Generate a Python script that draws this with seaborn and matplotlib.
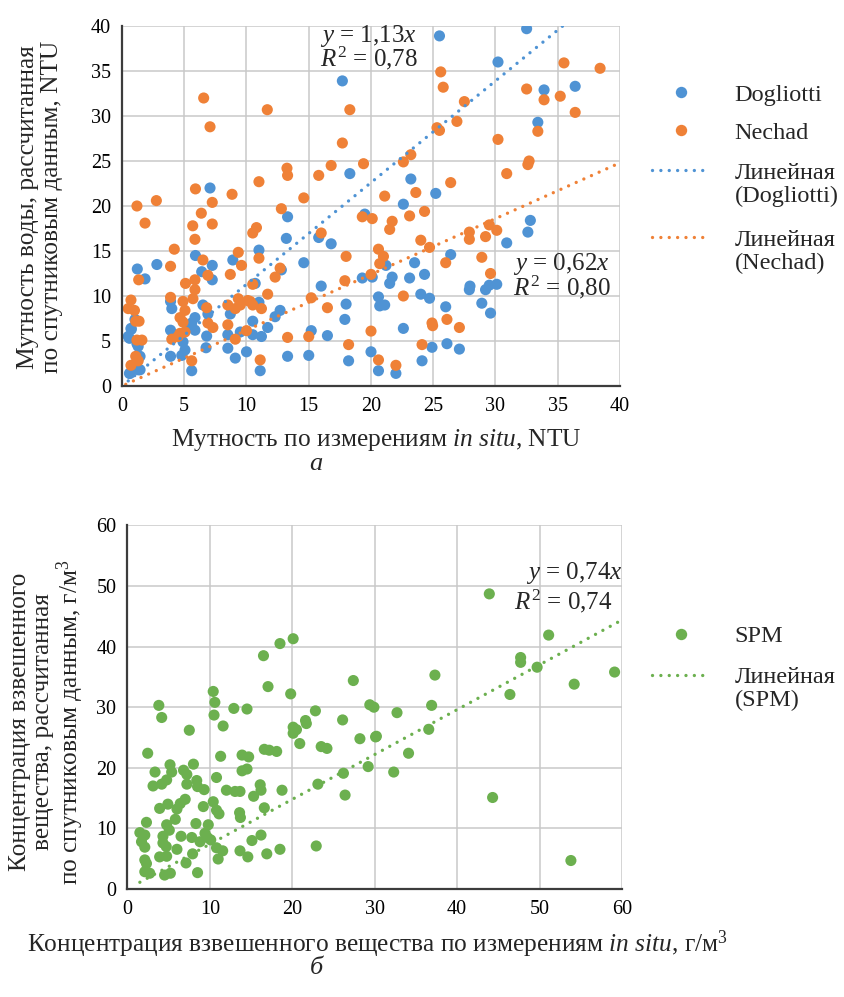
import matplotlib
matplotlib.use("Agg")
import matplotlib.pyplot as plt
from matplotlib.lines import Line2D
import seaborn as sns
import numpy as np
import pandas as pd

# ---------------- data: panel a (turbidity, NTU) ----------------
dogliotti_x = [17.7, 25.5, 32.5, 30.2, 33.9, 36.4, 33.4, 18.3, 7.07, 23.2, 25.2, 22.6, 13.3, 13.2, 15.8,
               16.8, 19.5, 11.0, 8.9, 5.9, 7.25, 1.23, 2.8, 1.85, 6.4, 7.25, 10.7, 12.8, 14.6, 19.3,
               16.0, 18.0, 17.9, 15.2, 16.5, 20.0, 18.2, 15.0, 13.3, 1.04, 0.72, 0.5, 1.2, 1.45, 0.64,
               1.45, 3.9, 4.0, 5.86, 5.6, 5.86, 5.3, 3.9, 4.9, 5.06, 3.9, 4.8, 5.6, 6.5, 6.9,
               6.8, 6.75, 8.7, 8.5, 9.5, 10.5, 11.0, 10.5, 11.2, 11.7, 10.0, 9.1, 8.5, 11.1, 12.7,
               12.3, 32.8, 32.6, 30.9, 26.4, 21.2, 23.5, 20.1, 21.7, 21.5, 23.1, 24.3, 27.95, 27.9, 29.2,
               29.5, 30.1, 20.6, 20.7, 21.1, 24.0, 24.7, 26.0, 28.9, 29.6, 22.6, 24.9, 26.1, 27.1, 24.1,
               20.6, 22.0, 0.75, 0.6, 1.3, 1.3, 0.6]
dogliotti_y = [33.9, 38.9, 39.7, 36.0, 32.9, 33.3, 29.3, 23.6, 22.0, 23.0, 21.4, 20.2, 18.8, 16.4, 16.5,
               15.8, 19.1, 15.1, 14.0, 14.5, 13.4, 13.0, 13.5, 11.9, 12.7, 11.8, 11.4, 12.9, 13.7, 12.0,
               11.1, 9.1, 7.4, 6.15, 5.6, 3.8, 2.8, 3.4, 3.3, 7.4, 6.4, 5.5, 4.7, 3.3, 1.4,
               1.8, 9.4, 8.6, 7.6, 7.0, 6.2, 6.6, 6.2, 4.9, 4.0, 3.3, 3.4, 1.7, 9.0, 8.0,
               5.55, 4.25, 8.0, 5.7, 6.0, 7.2, 9.3, 5.7, 5.5, 6.5, 3.8, 3.1, 4.2, 1.7, 8.4,
               7.7, 18.4, 17.1, 15.9, 14.6, 13.4, 13.7, 12.1, 12.1, 11.4, 12.0, 12.4, 11.1, 10.7, 10.7,
               11.2, 11.3, 9.9, 8.9, 9.0, 10.2, 9.75, 8.8, 9.2, 8.1, 6.4, 4.3, 4.7, 4.1, 2.8,
               1.7, 1.4, 6.3, 5.3, 4.4, 1.8, 1.4]

nechad_x = [6.56, 11.67, 18.3, 7.07, 17.7, 13.25, 13.3, 16.8, 19.4, 15.8, 11.0, 5.9, 8.84, 2.76, 14.6,
            1.2, 7.25, 35.5, 38.4, 25.6, 25.8, 32.5, 33.9, 35.2, 27.5, 36.4, 26.9, 33.4, 25.3, 25.5,
            30.2, 23.2, 22.6, 32.7, 32.6, 30.9, 26.4, 23.6, 21.1, 1.85, 6.37, 5.68, 7.25, 12.8, 5.86,
            4.2, 10.8, 10.5, 16.0, 19.3, 20.1, 11.0, 9.34, 9.6, 6.5, 3.9, 1.34, 6.9, 5.86, 5.1,
            5.86, 5.7, 8.7, 10.5, 12.7, 12.3, 18.0, 17.9, 20.0, 15.2, 11.7, 16.5, 20.0, 15.0, 13.3,
            18.2, 0.72, 0.5, 1.0, 1.1, 1.37, 1.2, 1.6, 1.1, 0.72, 1.3, 3.9, 4.9, 5.06, 4.66,
            4.9, 4.0, 4.66, 5.06, 5.6, 4.5, 6.8, 6.9, 7.3, 9.34, 9.5, 9.1, 8.5, 8.5, 9.1,
            10.0, 10.3, 10.5, 11.2, 11.1, 24.3, 23.1, 21.7, 21.5, 27.9, 27.9, 29.5, 30.1, 29.2, 24.0,
            24.7, 20.6, 21.0, 20.7, 26.0, 28.9, 29.6, 22.6, 24.9, 24.95, 26.1, 27.1, 24.1, 20.6, 22.0,
            10.1]
nechad_y = [32.0, 30.7, 30.7, 28.8, 27.0, 24.2, 23.4, 24.5, 24.7, 23.4, 22.7, 21.9, 21.3, 20.6, 20.9,
            20.0, 20.4, 35.9, 35.3, 34.9, 33.2, 33.0, 31.8, 32.2, 31.6, 30.4, 29.4, 28.3, 28.7, 28.4,
            27.4, 25.7, 24.9, 25.0, 24.6, 23.6, 22.6, 21.5, 21.1, 18.1, 19.2, 17.8, 18.0, 19.7, 16.3,
            15.2, 17.6, 17.0, 17.0, 18.8, 18.6, 14.2, 14.85, 13.4, 14.0, 13.3, 11.8, 12.3, 11.8, 11.4,
            10.7, 9.7, 12.4, 11.3, 13.1, 12.1, 14.4, 11.7, 12.4, 9.8, 10.2, 8.7, 6.1, 5.5, 5.4,
            4.6, 9.55, 8.6, 8.4, 7.2, 7.2, 5.1, 5.1, 3.3, 2.3, 2.8, 9.85, 9.4, 8.4, 7.6,
            7.1, 5.2, 5.85, 6.0, 2.8, 5.5, 8.7, 7.0, 6.5, 9.7, 9.0, 8.6, 9.0, 6.8, 5.2,
            6.15, 9.4, 9.0, 8.6, 2.9, 19.4, 18.9, 18.3, 17.4, 17.1, 16.3, 17.9, 17.3, 16.6, 16.2,
            15.4, 15.2, 14.4, 13.6, 13.7, 14.3, 12.5, 10.0, 7.0, 6.7, 7.4, 6.5, 4.6, 2.9, 2.3,
            9.5]

slope_dogliotti, r2_dogliotti = 1.13, 0.78
slope_nechad, r2_nechad = 0.62, 0.80

# ---------------- data: panel b (SPM, g/m3) ----------------
spm_x = [20.1, 18.5, 16.5, 27.4, 17.05, 19.8, 10.4, 3.8, 10.6, 12.9, 14.5, 10.5, 4.15, 22.8, 29.4,
         29.9, 21.6, 26.1, 43.9, 51.1, 47.7, 47.7, 49.7, 37.3, 59.1, 54.2, 46.4, 36.9, 32.7, 11.6,
         7.5, 20.1, 20.5, 21.7, 20.1, 20.9, 28.2, 30.1, 23.5, 24.2, 2.45, 11.3, 13.9, 14.7, 16.6,
         17.2, 18.1, 5.16, 8.0, 3.34, 5.36, 6.8, 7.2, 13.9, 14.5, 10.8, 4.75, 4.15, 3.1, 8.4,
         8.5, 9.3, 7.2, 12.0, 13.05, 13.65, 16.1, 16.2, 15.3, 18.75, 23.1, 26.2, 29.2, 26.4, 7.0,
         6.4, 4.9, 3.9, 10.4, 9.2, 10.8, 11.1, 6.0, 5.8, 2.3, 8.3, 4.75, 13.6, 13.7, 16.6,
         9.8, 1.5, 2.1, 4.3, 5.07, 6.5, 7.8, 9.4, 9.7, 10.1, 8.8, 1.7, 2.1, 4.3, 4.7,
         6.0, 10.8, 11.55, 13.65, 15.1, 16.2, 18.5, 16.9, 14.6, 11.0, 7.9, 3.9, 4.75, 2.1, 2.3,
         7.1, 2.1, 2.7, 4.5, 5.2, 8.5, 22.9, 30.2, 34.1, 36.55, 32.3, 44.3, 53.8]
spm_y = [41.3, 40.5, 38.5, 34.4, 33.4, 32.2, 32.6, 30.3, 30.8, 29.8, 29.7, 28.7, 28.3, 29.4, 30.4,
         30.0, 27.8, 27.9, 48.7, 41.9, 38.2, 37.4, 36.6, 35.3, 35.8, 33.8, 32.1, 30.3, 29.1, 26.9,
         26.2, 26.7, 26.3, 27.3, 25.7, 24.0, 24.8, 25.1, 23.5, 23.2, 22.4, 21.9, 22.1, 21.8, 23.05,
         22.9, 22.7, 20.5, 20.6, 19.3, 19.3, 19.6, 18.9, 19.5, 19.8, 18.4, 18.0, 17.3, 17.0, 17.9,
         16.9, 16.4, 17.3, 16.3, 16.1, 16.1, 17.2, 16.3, 15.3, 16.3, 17.3, 19.1, 20.2, 15.5, 14.8,
         14.1, 14.0, 13.3, 14.4, 13.6, 13.0, 12.4, 13.2, 11.5, 11.0, 10.8, 10.6, 12.6, 11.8, 13.4,
         10.6, 9.3, 8.9, 8.7, 9.7, 8.7, 8.5, 9.2, 8.5, 8.1, 7.8, 7.8, 6.9, 7.6, 7.0,
         6.55, 6.8, 6.3, 6.3, 8.0, 8.9, 6.55, 5.8, 5.3, 4.95, 5.8, 5.3, 5.4, 4.8, 4.2,
         4.3, 2.85, 2.6, 2.3, 2.6, 2.7, 7.1, 25.2, 22.4, 26.35, 19.3, 15.1, 4.7]
slope_spm, r2_spm = 0.74, 0.74

ticks_a = [0, 5, 10, 15, 20, 25, 30, 35, 40]
ticks_b_x = [0, 10, 20, 30, 40, 50, 60]
ticks_b_y = [0, 10, 20, 30, 40, 50, 60]

# ---------------- style ----------------
sns.set_style("white")
SERIF = ["Liberation Serif", "DejaVu Serif"]
plt.rcParams["font.family"] = SERIF
plt.rcParams["mathtext.fontset"] = "custom"
plt.rcParams["mathtext.rm"] = "Liberation Serif"
plt.rcParams["mathtext.it"] = "Liberation Serif:italic"
plt.rcParams["mathtext.bf"] = "Liberation Serif:bold"

BLUE = "#4f93d4"
ORANGE = "#ef8137"
GREEN = "#6cb04f"
GRID = "#c9c9c9"
SPINE = "#3c3c3c"
DOT = (0, (0.01, 2.5))
PT_S = 64

fig = plt.figure(figsize=(8.45, 9.97), dpi=100)
W, H = 845.0, 997.0
ax1 = fig.add_axes([122 / W, 1 - 386 / H, 498 / W, 360 / H])
ax2 = fig.add_axes([127.5 / W, 1 - 889 / H, 494.5 / W, 363.6 / H])


def style_axes(ax, xt, yt, xlim, ylim):
    ax.set_xlim(*xlim)
    ax.set_ylim(*ylim)
    ax.set_xticks(xt)
    ax.set_yticks(yt)
    ax.grid(True, color=GRID, linewidth=1.1)
    ax.set_axisbelow(True)
    for s in ["top", "right"]:
        ax.spines[s].set_visible(False)
    for s in ["left", "bottom"]:
        ax.spines[s].set_color(SPINE)
        ax.spines[s].set_linewidth(1.6)
        ax.spines[s].set_zorder(5)
    ax.tick_params(direction="out", length=4, width=1.2, color=SPINE,
                   labelsize=14.5, labelcolor="black", pad=4)
    for lab in ax.get_xticklabels() + ax.get_yticklabels():
        lab.set_fontfamily(SERIF)


# ---------------- panel a ----------------
df_d = pd.DataFrame({"x": dogliotti_x, "y": dogliotti_y})
df_n = pd.DataFrame({"x": nechad_x, "y": nechad_y})
sns.scatterplot(data=df_d, x="x", y="y", ax=ax1, color=BLUE, s=PT_S, edgecolor="none", zorder=3)
sns.scatterplot(data=df_n, x="x", y="y", ax=ax1, color=ORANGE, s=PT_S, edgecolor="none", zorder=3)

xd = np.array([min(dogliotti_x), max(nechad_x)])
ax1.plot(xd, slope_dogliotti * xd, color=BLUE, lw=2.4, ls=DOT, dash_capstyle="round", zorder=4)
xn = np.array([min(nechad_x) - 0.2, 40])
ax1.plot(xn, slope_nechad * xn, color=ORANGE, lw=2.4, ls=DOT, dash_capstyle="round", zorder=4)
style_axes(ax1, ticks_a, ticks_a, (0, 40), (0, 40))
ax1.set_xlabel("")
ax1.set_ylabel("")


def fmt(v):
    return f"{v:.2f}".replace(".", ",")


ax1.text(15.9, 38.9, "$y$ = " + fmt(slope_dogliotti) + "$x$", fontsize=18, ha="left", va="center", zorder=6)
ax1.text(15.9, 36.4, "$R^2$ = " + fmt(r2_dogliotti), fontsize=18, ha="left", va="center", zorder=6)
ax1.text(31.4, 13.6, "$y$ = " + fmt(slope_nechad) + "$x$", fontsize=18, ha="left", va="center", zorder=6)
ax1.text(31.4, 11.0, "$R^2$ = " + fmt(r2_nechad), fontsize=18, ha="left", va="center", zorder=6)

# ---------------- panel b ----------------
df_s = pd.DataFrame({"x": spm_x, "y": spm_y})
sns.scatterplot(data=df_s, x="x", y="y", ax=ax2, color=GREEN, s=PT_S, edgecolor="none", zorder=3)
xs = np.array([min(spm_x), 60])
ax2.plot(xs, slope_spm * xs, color=GREEN, lw=2.4, ls=DOT, dash_capstyle="round", zorder=4)
style_axes(ax2, ticks_b_x, ticks_b_y, (0, 60), (0, 60))
ax2.set_xlabel("")
ax2.set_ylabel("")
ax2.text(48.4, 52.1, "$y$ = " + fmt(slope_spm) + "$x$", fontsize=18, ha="left", va="center", zorder=6)
ax2.text(46.9, 47.5, "$R^2$ = " + fmt(r2_spm), fontsize=18, ha="left", va="center", zorder=6)

# ---------------- labels ----------------
fig.text(376 / W, 1 - 440 / H, r"Мутность по измерениям $\mathit{in\ situ}$, NTU",
         fontsize=18.3, ha="center", va="center")
fig.text(40 / W, 1 - 207 / H, "Мутность воды, рассчитанная\nпо спутниковым данным, NTU",
         fontsize=18.3, ha="center", va="center", rotation=90, multialignment="center",
         linespacing=1.15)
fig.text(316 / W, 1 - 464 / H, "а", fontsize=19, style="italic", ha="center", va="center")

fig.text(377 / W, 1 - 944 / H,
         r"Концентрация взвешенного вещества по измерениям $\mathit{in\ situ}$, г/м$^3$",
         fontsize=18.3, ha="center", va="center")
fig.text(47.5 / W, 1 - 722 / H,
         "Концентрация взвешенного\nвещества, рассчитанная\nпо спутниковым данным, г/м$^3$",
         fontsize=18.3, ha="center", va="center", rotation=90, multialignment="center",
         linespacing=1.05)
fig.text(316 / W, 1 - 968 / H, "б", fontsize=19, style="italic", ha="center", va="center")

# ---------------- legends (one row per text line, handle on the first line) ----------------
def mk(color):
    return Line2D([], [], marker="o", ls="none", color=color, markersize=8.2, markeredgewidth=0)


def dl(color):
    return Line2D([], [], color=color, lw=2.4, ls=DOT, dash_capstyle="round")


def blank():
    return Line2D([], [], ls="none", marker=None)


legend_rows = [
    (mk(BLUE), "Dogliotti", 95),
    (mk(ORANGE), "Nechad", 133),
    (dl(BLUE), "Линейная", 173),
    (blank(), "(Dogliotti)", 196),
    (dl(ORANGE), "Линейная", 240),
    (blank(), "(Nechad)", 263),
    (mk(GREEN), "SPM", 636),
    (dl(GREEN), "Линейная", 677),
    (blank(), "(SPM)", 700),
]
for handle, label, yc in legend_rows:
    fig.legend([handle], [label], loc="center left", bbox_to_anchor=(652 / W, 1 - yc / H),
               frameon=False, fontsize=17.5, handlelength=2.35, handletextpad=1.05,
               borderpad=0, borderaxespad=0)

fig.savefig("out.png", dpi=100)
